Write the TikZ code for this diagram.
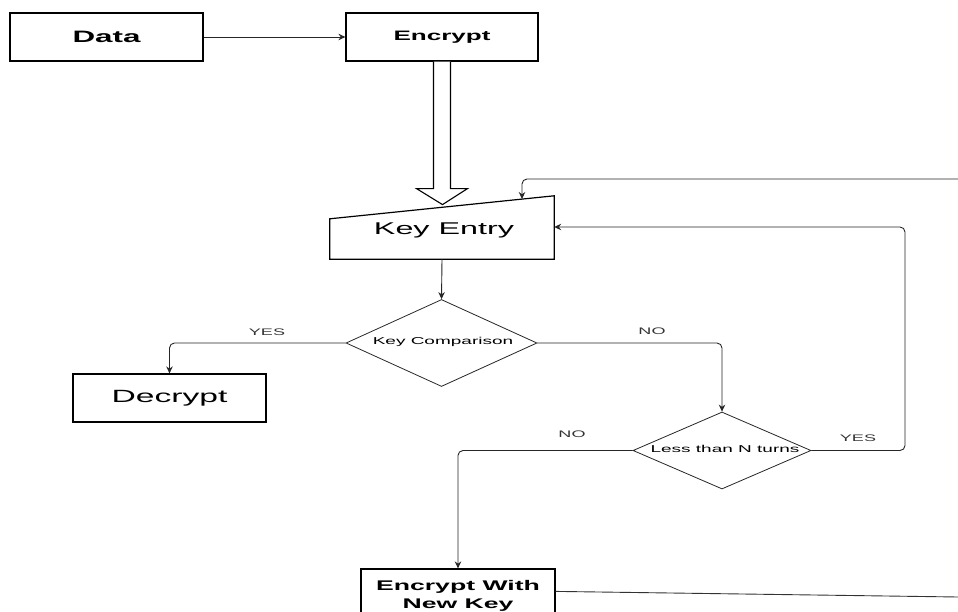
\documentclass[tikz,border=0pt]{standalone}
\usepackage{fontspec}
\setmainfont{Liberation Sans}
\newfontfamily\wf[FakeStretch=1.9]{Liberation Sans}
\usetikzlibrary{shapes.geometric,arrows.meta,calc}
\begin{document}
\begin{tikzpicture}[x=1pt,y=-1pt,
  box/.style={draw=black,line width=1.2pt,minimum width=193pt,minimum height=48pt,inner sep=0pt,text=black},
  decision/.style={draw=black!85,line width=0.8pt,diamond,inner sep=0pt},
  conn/.style={draw=black!85,line width=0.9pt,-{Stealth[length=7pt,width=6.5pt]},rounded corners=5pt},
  plainline/.style={draw=black!80,line width=0.9pt},
  lab/.style={font=\wf\fontsize{9.5}{11}\selectfont,text=black!80},
  smalltxt/.style={font=\wf\fontsize{10}{12}\selectfont,text=black}]
\useasboundingbox (0,0) rectangle (958,612);
\clip (0,0) rectangle (958,612);

% boxes
\node[box,font=\wf\bfseries\fontsize{16.5}{18}\selectfont] (data) at (106.5,37) {Data};
\node[box,minimum width=192pt,font=\wf\bfseries\fontsize{13.7}{16}\selectfont] (enc) at (442,37) {Encrypt};

% key entry (manual input shape)
\node[minimum width=224pt,minimum height=40pt,inner sep=0pt] (ke) at (442,239) {};
\draw[line width=1.2pt] (ke.south west) -- (ke.north west) -- ($(ke.north east)+(0,-23)$) -- (ke.south east) -- cycle;
\node[font=\wf\fontsize{17}{19}\selectfont] (ket) at (444,230) {Key Entry};

\node[box,font=\wf\fontsize{17.7}{20}\selectfont] (dec) at (169.5,398) {Decrypt};

\node[decision,minimum width=191pt,minimum height=87pt] (kc) at (441.5,343) {};
\node[smalltxt] (kct) at (443,342) {Key Comparison};

\node[decision,minimum width=178pt,minimum height=77pt] (ln) at (722,450.5) {};
\node[smalltxt] (lnt) at (725,449) {Less than N turns};

\node[box,minimum width=194pt,minimum height=54pt,align=center,font=\wf\bfseries\fontsize{14}{18}\selectfont] (enw) at (458,596) {Encrypt With\\New Key};

% hollow double arrow
\draw[line width=1.1pt,fill=white]
  ($(enc.south)+(-8.5,0)$) -- ++(0,127) -- ++(-17,0) -- ($(enc.south)+(0.5,143)$)
  -- ($(enc.south)+(25.5,127)$) -- ++(-17,0) -- ($(enc.south)+(8.5,0)$);

% connectors
\draw[conn] (data) -- (enc);
\draw[conn] (ke.south) -- (kc.north);
\draw[conn] (kc.west) -| (dec.north);
\node[lab] (yes1) at (267,332) {YES};
\draw[conn] (kc.east) -| (ln.north);
\node[lab] (no1) at (652,331) {NO};
\draw[conn] (ln.west) -| (enw.north);
\node[lab] (no2) at (572,434) {NO};
\coordinate (yr) at (905,0);
\draw[conn] (ln.east) -- (ln.east -| yr) |- ($(ke.east)+(0,-12)$);
\node[lab] (yes2) at (858,438) {YES};
\coordinate (topin) at (958,179);
\coordinate (kein) at (522,199);
\draw[conn] (topin) -| (kein);
\coordinate (botout) at (958,597);
\draw[plainline] ($(enw.north east)+(0,23)$) -- (botout);
\end{tikzpicture}
\end{document}
